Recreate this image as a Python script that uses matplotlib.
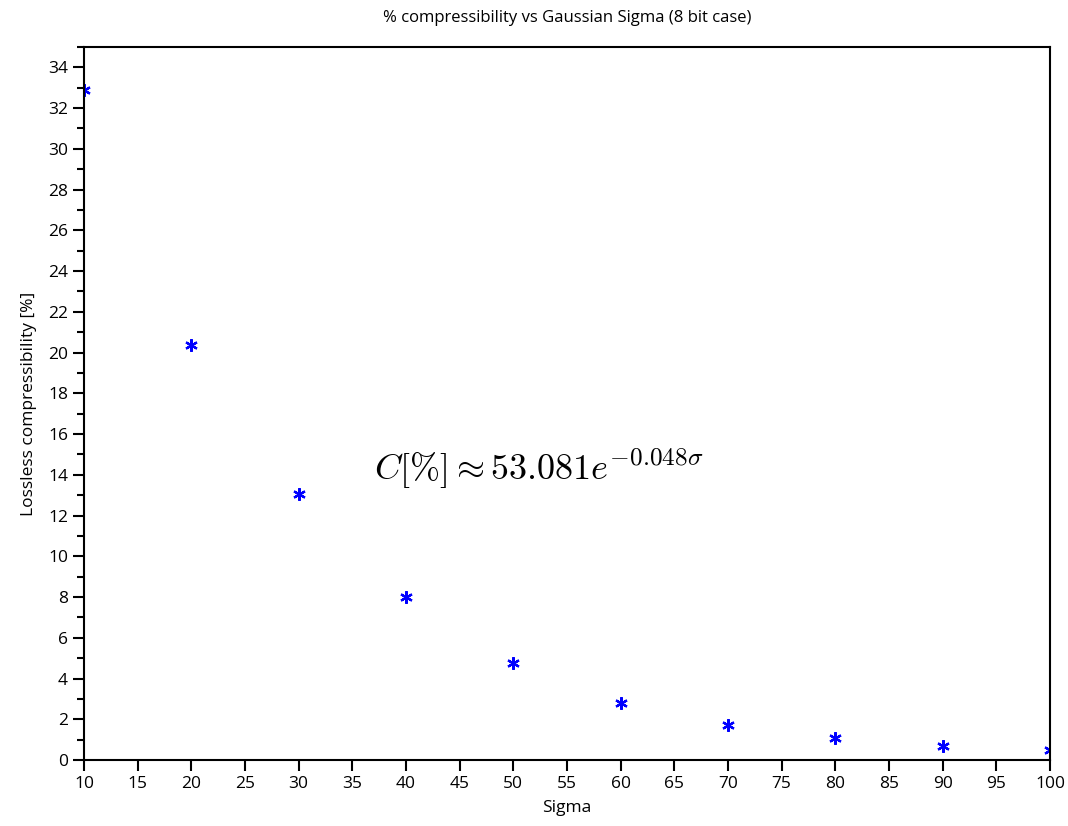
import numpy as np
import matplotlib
matplotlib.use("Agg")
import matplotlib.pyplot as plt
from matplotlib.ticker import MultipleLocator

plt.rcParams['font.family'] = ['Open Sans', 'DejaVu Sans']
plt.rcParams['mathtext.fontset'] = 'cm'

sigma = [10, 20, 30, 40, 50, 60, 70, 80, 90, 100]
compress = [32.9, 20.35, 13.05, 8.0, 4.75, 2.8, 1.72, 1.08, 0.69, 0.49]

fig = plt.figure(figsize=(10.68, 8.26), dpi=100)
ax = fig.add_axes([84 / 1068, 1 - 760 / 826, (1050 - 84) / 1068, (760 - 47) / 826])

ax.plot(sigma, compress, linestyle='none', marker=(6, 2, 0), color='#0000ff',
        markersize=9, markeredgewidth=1.6)

ax.set_xlim(10, 100)
ax.set_ylim(0, 35)
ax.xaxis.set_major_locator(MultipleLocator(5))
ax.yaxis.set_major_locator(MultipleLocator(2))
ax.yaxis.set_minor_locator(MultipleLocator(1))
ax.tick_params(which='both', direction='out', labelsize=12.5, width=1.5)
ax.tick_params(which='major', length=8)
ax.tick_params(which='minor', length=5)
for s in ax.spines.values():
    s.set_linewidth(1.5)

ax.set_title('% compressibility vs Gaussian Sigma (8 bit case)', fontsize=12, pad=18)
ax.set_xlabel('Sigma', fontsize=12.5, labelpad=6)
ax.set_ylabel('Lossless compressibility [%]', fontsize=12.5, labelpad=8)

ax.text(37.0, 14.3, r'$C[\%] \approx 53.081e^{-0.048\sigma}$', fontsize=26,
        va='center', ha='left')

fig.savefig('out.png', dpi=100)
